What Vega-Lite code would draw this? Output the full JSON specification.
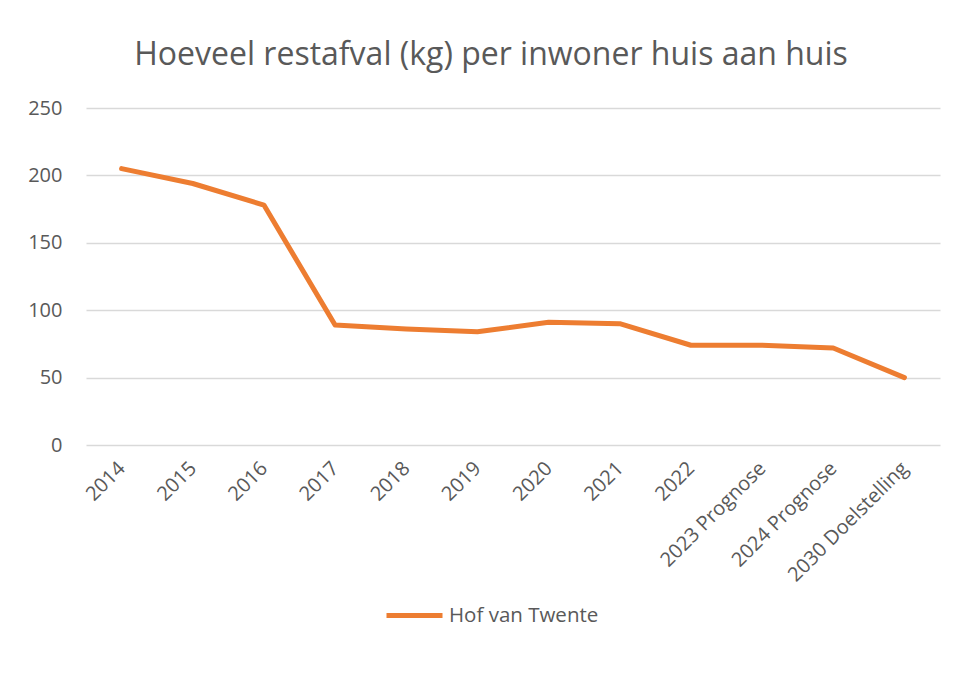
{
  "$schema": "https://vega.github.io/schema/vega-lite/v6.json",
  "autosize": "none",
  "width": 854,
  "height": 337,
  "padding": {"left": 86, "top": 108, "right": 22, "bottom": 230},
  "background": "white",
  "title": {
    "text": "Hoeveel restafval (kg) per inwoner huis aan huis",
    "font": "Open Sans",
    "fontSize": 32,
    "fontWeight": "normal",
    "color": "#595959",
    "anchor": "middle",
    "frame": "group",
    "dx": -22,
    "offset": 26
  },
  "data": {
    "values": [
      {"jaar": "2014", "kg": 205, "reeks": "Hof van Twente"},
      {"jaar": "2015", "kg": 194, "reeks": "Hof van Twente"},
      {"jaar": "2016", "kg": 178, "reeks": "Hof van Twente"},
      {"jaar": "2017", "kg": 89, "reeks": "Hof van Twente"},
      {"jaar": "2018", "kg": 86, "reeks": "Hof van Twente"},
      {"jaar": "2019", "kg": 84, "reeks": "Hof van Twente"},
      {"jaar": "2020", "kg": 91, "reeks": "Hof van Twente"},
      {"jaar": "2021", "kg": 90, "reeks": "Hof van Twente"},
      {"jaar": "2022", "kg": 74, "reeks": "Hof van Twente"},
      {"jaar": "2023 Prognose", "kg": 74, "reeks": "Hof van Twente"},
      {"jaar": "2024 Prognose", "kg": 72, "reeks": "Hof van Twente"},
      {"jaar": "2030 Doelstelling", "kg": 50, "reeks": "Hof van Twente"}
    ]
  },
  "mark": {"type": "line", "strokeWidth": 5, "strokeCap": "round", "strokeJoin": "round"},
  "encoding": {
    "x": {
      "field": "jaar",
      "type": "ordinal",
      "sort": null,
      "scale": {"type": "point", "padding": 0.5},
      "axis": {
        "title": null,
        "labelAngle": -45,
        "labelAlign": "right",
        "labelBaseline": "middle",
        "labelFont": "Open Sans",
        "labelFontSize": 20,
        "labelColor": "#595959",
        "labelPadding": 20,
        "ticks": false,
        "domain": false,
        "grid": false
      }
    },
    "y": {
      "field": "kg",
      "type": "quantitative",
      "scale": {"domain": [0, 250]},
      "axis": {
        "title": null,
        "values": [0, 50, 100, 150, 200, 250],
        "labelFont": "Open Sans",
        "labelFontSize": 20,
        "labelColor": "#595959",
        "labelPadding": 24,
        "ticks": false,
        "domain": false,
        "grid": true,
        "gridColor": "#d9d9d9",
        "gridWidth": 1.5
      }
    },
    "color": {
      "field": "reeks",
      "type": "nominal",
      "scale": {"range": ["#ed7d31"]},
      "legend": {
        "title": null,
        "orient": "none",
        "legendX": 298,
        "legendY": 477,
        "symbolType": "stroke",
        "symbolSize": 3136,
        "symbolStrokeWidth": 5,
        "symbolStrokeColor": "#ed7d31",
        "labelFont": "Open Sans",
        "labelFontSize": 20.5,
        "labelColor": "#595959",
        "labelOffset": 4
      }
    }
  },
  "config": {"view": {"stroke": null}}
}
